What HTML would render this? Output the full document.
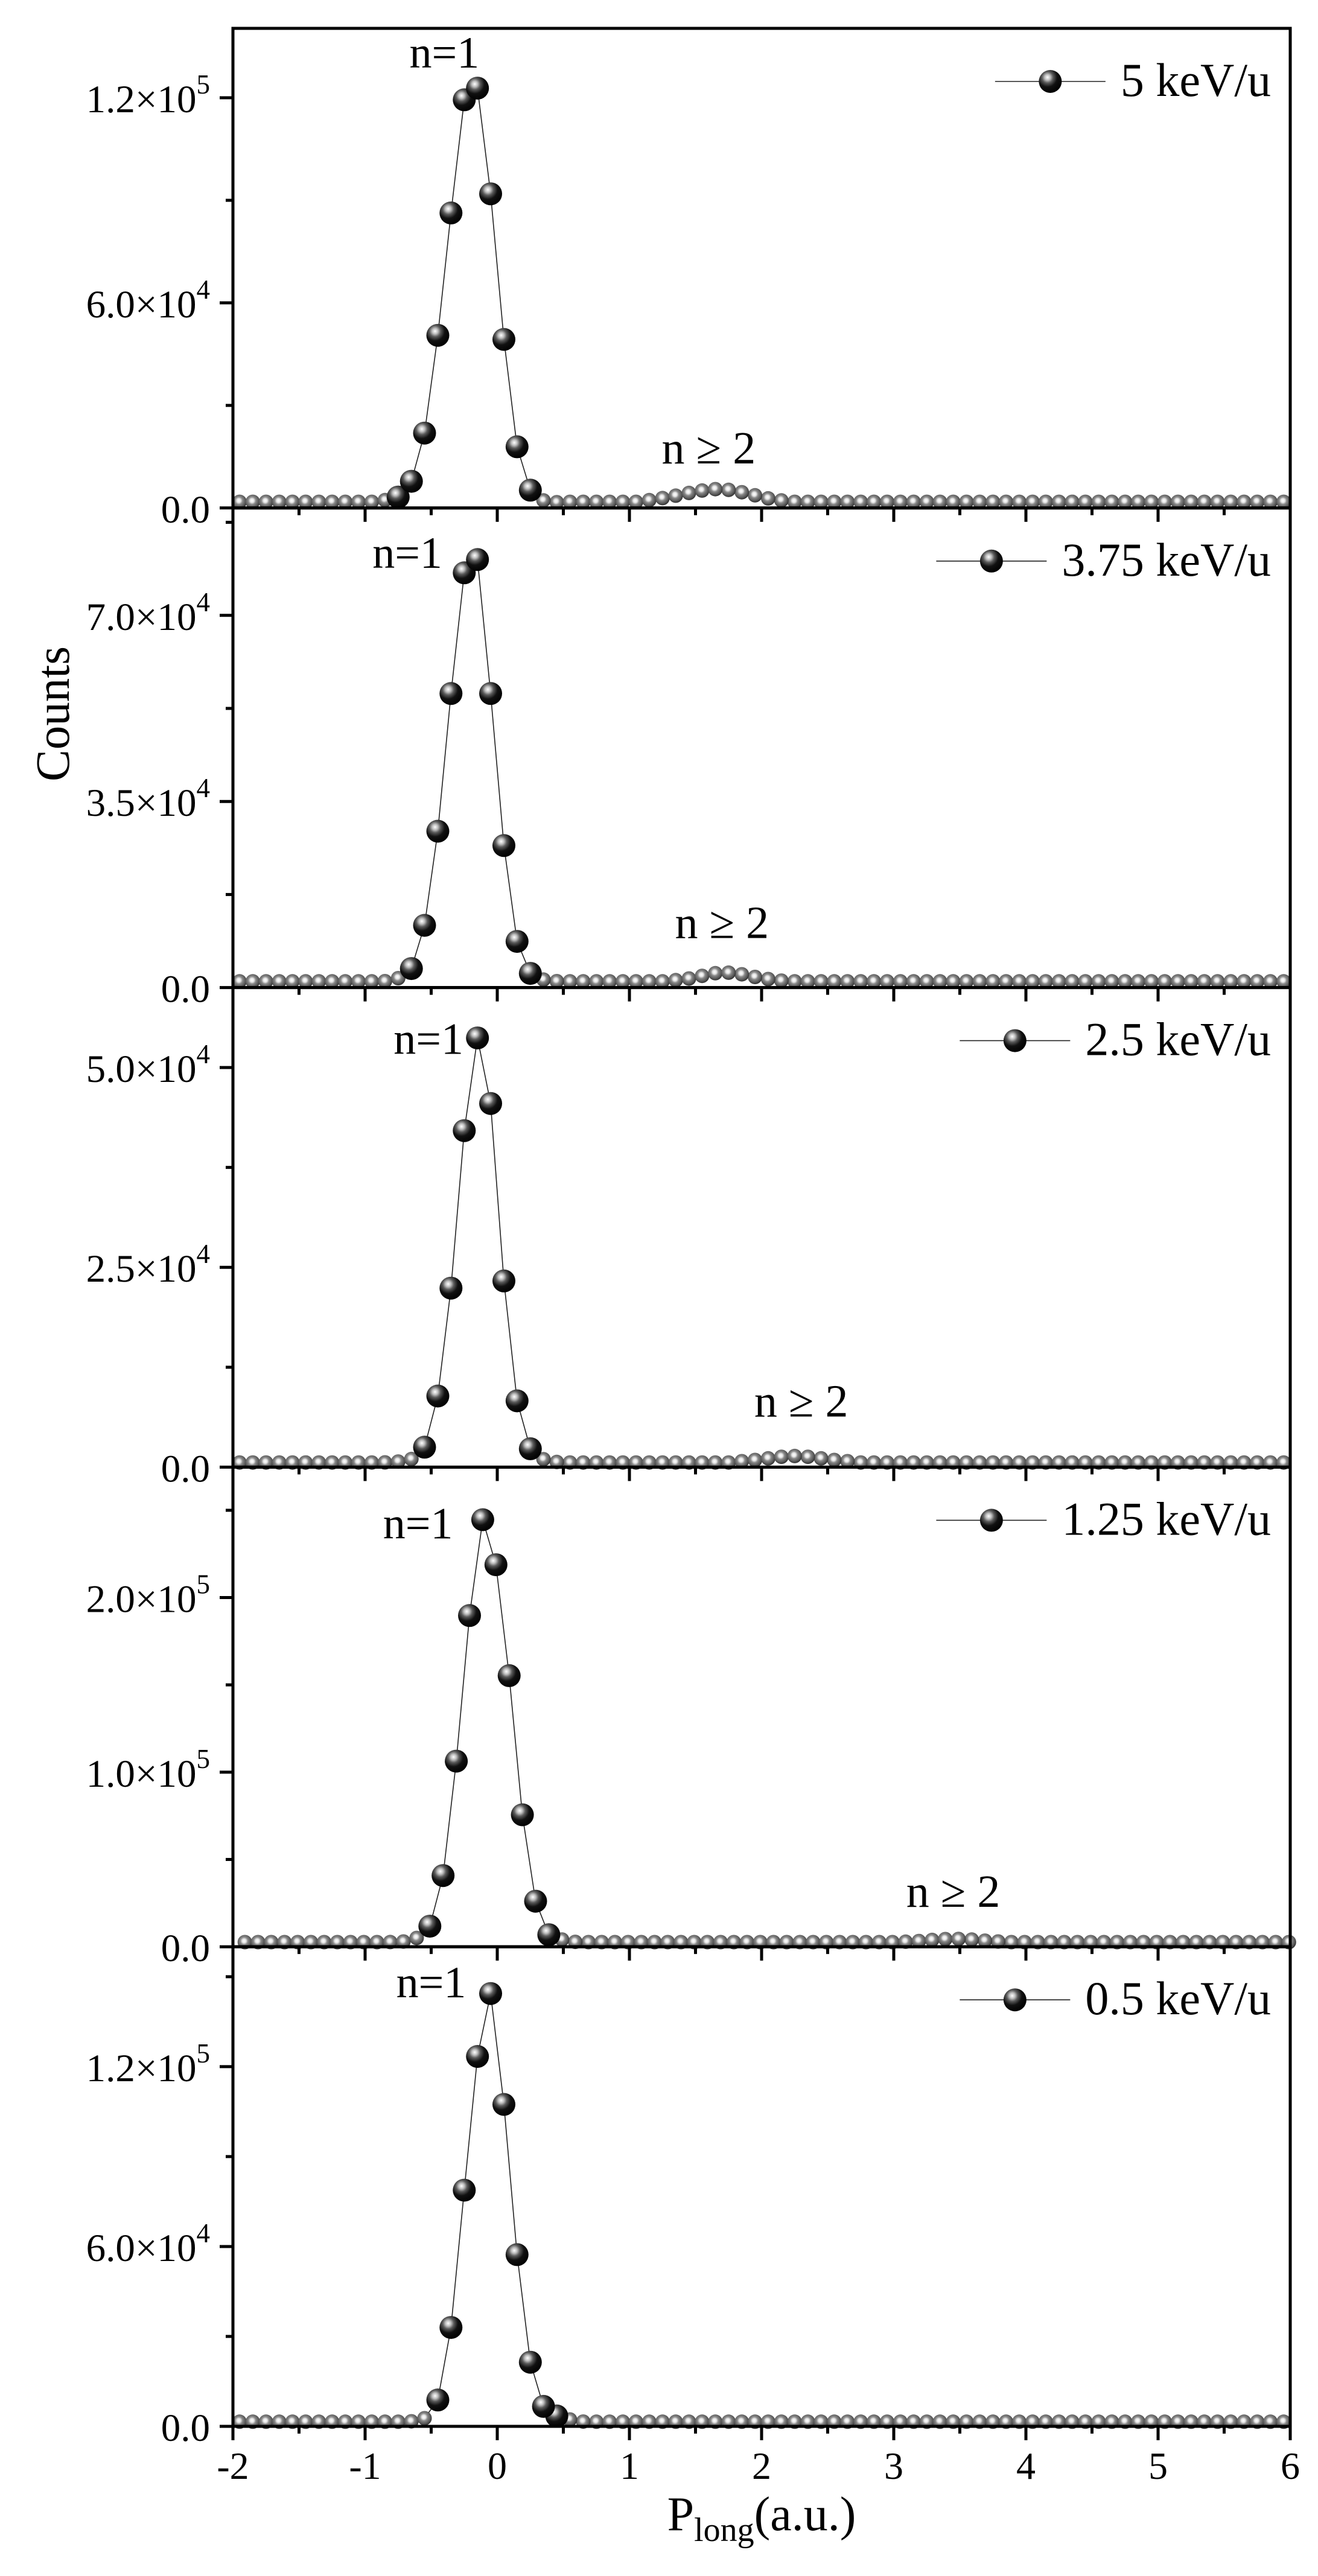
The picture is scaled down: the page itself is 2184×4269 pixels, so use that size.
<!DOCTYPE html>
<html><head><meta charset="utf-8">
<style>
html,body{margin:0;padding:0;background:#fff;}
svg{display:block;font-family:"Liberation Serif","Times New Roman",serif;}
</style></head>
<body>
<svg id="chart" width="2184" height="4269" viewBox="0 0 2184 4269" xmlns="http://www.w3.org/2000/svg">
<defs>
<radialGradient id="bigBall" cx="0.38" cy="0.32" r="0.7">
<stop offset="0" stop-color="#ffffff"/>
<stop offset="0.18" stop-color="#bdbdbd"/>
<stop offset="0.35" stop-color="#5a5a5a"/>
<stop offset="0.6" stop-color="#111"/>
<stop offset="1" stop-color="#000"/>
</radialGradient>
<radialGradient id="smallBall" cx="0.45" cy="0.42" r="0.62">
<stop offset="0" stop-color="#ffffff"/>
<stop offset="0.22" stop-color="#e6e6e6"/>
<stop offset="0.42" stop-color="#8a8a8a"/>
<stop offset="0.75" stop-color="#555"/>
<stop offset="1" stop-color="#222"/>
</radialGradient>
</defs>
<g id="plots"></g>
<text transform="translate(114,1183) rotate(-90)" text-anchor="middle" font-size="79">Counts</text>
<text x="1262" y="4193" text-anchor="middle" font-size="80">P<tspan font-size="56" dy="18">long</tspan><tspan dy="-18">(a.u.)</tspan></text>
</svg>
<script>
// ---- data ----
const gridX = [-1.95,-1.85,-1.75,-1.65,-1.55,-1.45,-1.35,-1.25,-1.15,-1.05,-0.95,-0.85,-0.75,-0.65,-0.55,-0.45,-0.35,-0.25,-0.15,-0.05,0.05,0.15,0.25,0.35,0.45,0.55,0.65,0.75,0.85,0.95,1.05,1.15,1.25,1.35,1.45,1.55,1.65,1.75,1.85,1.95,2.05,2.15,2.25,2.35,2.45,2.55,2.65,2.75,2.85,2.95,3.05,3.15,3.25,3.35,3.45,3.55,3.65,3.75,3.85,3.95,4.05,4.15,4.25,4.35,4.45,4.55,4.65,4.75,4.85,4.95,5.05,5.15,5.25,5.35,5.45,5.55,5.65,5.75,5.85,5.95];
const panelLabels = ["5 keV/u","3.75 keV/u","2.5 keV/u","1.25 keV/u","0.5 keV/u"];
const xShift = [0,0,0,0.04,0];
const yMax = [140300,90200,60000,274700,160000];
const counts5 = [1800,1800,1800,1800,1800,1800,1800,1800,1800,1800,1800,2300,3200,7800,21900,50500,86300,119400,122800,91900,49300,17900,5200,2200,1700,1800,1800,1800,1800,1800,1800,2300,2900,3600,4400,5100,5500,5300,4600,3700,2800,2200,1800,1800,1800,1800,1800,1800,1800,1800,1800,1800,1800,1800,1800,1800,1800,1800,1800,1800,1800,1800,1800,1800,1800,1800,1800,1800,1800,1800,1800,1800,1800,1800,1800,1800,1800,1800,1800,1800];
const counts375 = [1170,1170,1170,1170,1170,1170,1170,1170,1170,1170,1170,1200,1770,3570,11700,29400,55300,78000,80500,55300,26700,8680,2670,1500,1200,1170,1170,1170,1170,1170,1170,1170,1170,1400,1700,2200,2700,2800,2500,2000,1600,1300,1170,1170,1170,1170,1170,1170,1170,1170,1170,1170,1170,1170,1170,1170,1170,1170,1170,1170,1170,1170,1170,1170,1170,1170,1170,1170,1170,1170,1170,1170,1170,1170,1170,1170,1170,1170,1170,1170];
const counts25 = [580,580,580,580,580,580,580,580,580,580,580,600,700,1020,2500,8900,22400,42100,53700,45500,23300,8300,2300,1000,650,580,580,580,580,580,580,580,580,580,580,580,580,580,750,900,1100,1300,1400,1300,1100,900,750,580,580,580,580,580,580,580,580,580,580,580,580,580,580,580,580,580,580,580,580,580,580,580,580,580,580,580,580,580,580,580,580,580];
const counts125 = [2660,2660,2660,2660,2660,2660,2660,2660,2660,2660,2660,2700,3000,5050,11800,40800,106300,189700,244600,218800,155300,75600,26100,6900,4150,2800,2660,2660,2660,2660,2660,2660,2660,2660,2660,2660,2660,2660,2660,2660,2660,2660,2660,2660,2660,2660,2660,2660,2660,2660,2900,3300,3900,4400,4500,4100,3500,3000,2660,2660,2660,2660,2660,2660,2660,2660,2660,2660,2660,2660,2660,2660,2660,2660,2660,2660,2660,2660,2660,2660];
const counts05 = [1550,1550,1550,1550,1550,1550,1550,1550,1550,1550,1550,1550,1550,1700,2720,8800,33000,78800,123400,144400,107400,57300,21400,6660,3460,2300,1600,1550,1550,1550,1550,1550,1550,1550,1550,1550,1550,1550,1550,1550,1550,1550,1550,1550,1550,1550,1550,1550,1550,1550,1550,1550,1550,1550,1550,1550,1550,1550,1550,1550,1550,1550,1550,1550,1550,1550,1550,1550,1550,1550,1550,1550,1550,1550,1550,1550,1550,1550,1550,1550];
const seriesList = [counts5, counts375, counts25, counts125, counts05];
const yMajorVals = [[0,60000,120000],[0,35000,70000],[0,25000,50000],[0,100000,200000],[0,60000,120000]];
const yMajorMant = [["0.0","6.0×10","1.2×10"],["0.0","3.5×10","7.0×10"],["0.0","2.5×10","5.0×10"],["0.0","1.0×10","2.0×10"],["0.0","6.0×10","1.2×10"]];
const yMajorExp = [["","4","5"],["","4","4"],["","4","4"],["","5","5"],["","4","5"]];
const yMinorVals = [[30000,90000],[17500,52500,87500],[12500,37500],[50000,150000,250000],[30000,90000,150000]];
const xTickVals = [-2,-1,0,1,2,3,4,5,6];
const xTickLabels = ["-2","-1","0","1","2","3","4","5","6"];
const xMinorVals = [-1.5,-0.5,0.5,1.5,2.5,3.5,4.5,5.5];
const n1Pos = [[-0.4],[-0.68],[-0.52],[-0.6],[-0.5]];
const n2Pos = [1.6,1.7,2.3,3.45,null];

// ---- layout ----
const L=386, R=2138, TOP=47, PH=794.8;
const NS="http://www.w3.org/2000/svg";
const root=document.getElementById('plots');
function mk(tag,attrs,parent){const e=document.createElementNS(NS,tag);for(const k in attrs)e.setAttribute(k,attrs[k]);(parent||root).appendChild(e);return e;}
function xs(v){return L+(v+2)/8*(R-L);}

seriesList.forEach((vals,p)=>{
  const top=TOP+p*PH, bot=top+PH;
  const ys=v=>bot-v/yMax[p]*PH;
  const g=mk('g',{});
  
  
  let d='';
  vals.forEach((v,i)=>{d+=(i?'L':'M')+xs(gridX[i]+xShift[p]).toFixed(1)+','+ys(v).toFixed(1);});
  const ln=mk('path',{d:d,fill:'none',stroke:'#222','stroke-width':1.6},g);
  
  
  const order=vals.map((v,i)=>i).sort((a,b)=>vals[a]-vals[b]);
  order.forEach(i=>{
    const v=vals[i];
    const big=v>yMax[p]*0.02 && gridX[i]<1;
    const c=mk('circle',{cx:xs(gridX[i]+xShift[p]).toFixed(1),cy:ys(v).toFixed(1),r:big?19:12,fill:big?'url(#bigBall)':'url(#smallBall)'},g);
    
    
  });
  const fr=mk('rect',{x:L,y:top,width:R-L,height:PH,fill:'none',stroke:'#000','stroke-width':5},g);
  
  
  yMajorVals[p].forEach((v,j)=>{
    const y=ys(v);
    mk('line',{x1:L-22,x2:L,y1:y,y2:y,stroke:'#000','stroke-width':5},g);
    const t=mk('text',{x:348,y:y+24,'text-anchor':'end','font-size':65},g);
    
    
    t.textContent=yMajorMant[p][j];
    if(yMajorExp[p][j]){const s=mk('tspan',{'font-size':45,dy:-31},t);s.textContent=yMajorExp[p][j];}
  });
  yMinorVals[p].forEach(v=>{const y=ys(v);if(y>top)mk('line',{x1:L-12,x2:L,y1:y,y2:y,stroke:'#000','stroke-width':5},g);});
  xTickVals.forEach(v=>mk('line',{x1:xs(v),x2:xs(v),y1:bot,y2:bot+23,stroke:'#000','stroke-width':5},g));
  xMinorVals.forEach(v=>mk('line',{x1:xs(v),x2:xs(v),y1:bot,y2:bot+12,stroke:'#000','stroke-width':5},g));
  const n1=mk('text',{x:xs(n1Pos[p][0]),y:top+[65,99,110,118,84][p],'text-anchor':'middle','font-size':74},g);
  
  
  n1.textContent='n=1';
  if(n2Pos[p]!==null){
    const n2=mk('text',{x:xs(n2Pos[p]),y:bot-[74,82,84,66][p],'text-anchor':'middle','font-size':76},g);
    
    
    n2.textContent='n ≥ 2';
  }
  const lg=mk('g',{},g);
  
  
  const lt=mk('text',{x:2106,y:top+112,'text-anchor':'end','font-size':78},lg);
  lt.textContent=panelLabels[p];
  const tw=lt.getComputedTextLength();
  const x1=2106-tw-25, x0=x1-183, ly=top+88;
  mk('line',{x1:x0,x2:x1,y1:ly,y2:ly,stroke:'#222','stroke-width':1.6},lg);
  mk('circle',{cx:(x0+x1)/2,cy:ly,r:19,fill:'url(#bigBall)'},lg);
});
xTickVals.forEach((v,i)=>{
  const t=mk('text',{x:xs(v),y:4108,'text-anchor':'middle','font-size':64});
  
  
  t.textContent=xTickLabels[i];
});
</script>
</body></html>
